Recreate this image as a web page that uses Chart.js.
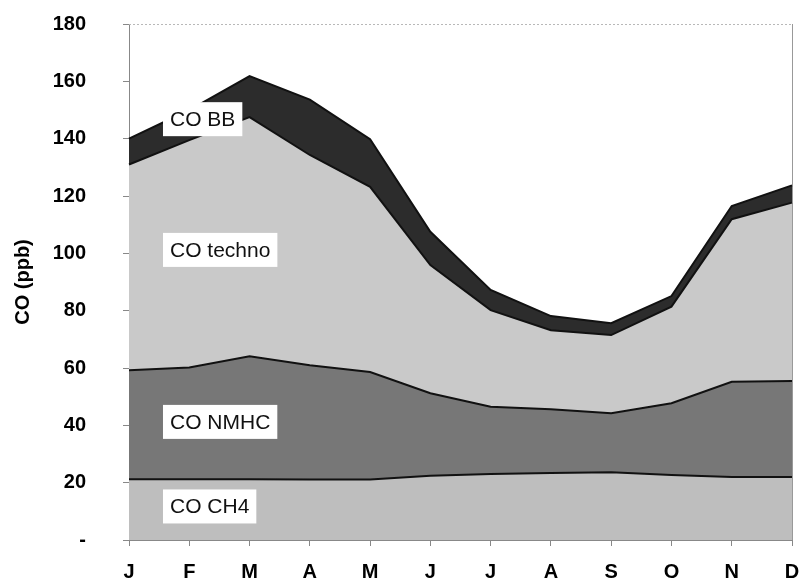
<!DOCTYPE html>
<html lang="en">
<head>
<meta charset="UTF-8">
<title>CO source contributions</title>
<script src="https://cdn.jsdelivr.net/npm/chart.js"></script>
<style>
  html, body { margin: 0; padding: 0; background: #fff; }
  #wrap { width: 800px; height: 579px; }
</style>
</head>
<body>
<div id="wrap"><canvas id="chart" width="800" height="579"></canvas></div>
<script>
// Monthly CO contributions (ppb), stacked from the bottom up
const months = ['J', 'F', 'M', 'A', 'M', 'J', 'J', 'A', 'S', 'O', 'N', 'D'];
const coCH4   = [21.2, 21.2, 21.2, 21.1, 21.1, 22.4, 23.0, 23.4, 23.6, 22.7, 22.0, 22.0];
const coNMHC  = [38.0, 39.0, 42.9, 39.9, 37.5, 28.8, 23.5, 22.2, 20.6, 25.0, 33.2, 33.5];
const coTechno = [71.8, 79.3, 83.4, 73.3, 64.6, 44.7, 33.7, 27.6, 27.3, 33.7, 56.7, 62.2];
const coBB    = [9.0, 10.5, 14.3, 19.3, 16.6, 11.6, 7.0, 4.9, 4.1, 3.7, 4.6, 6.0];
const yTicks = [0, 20, 40, 60, 80, 100, 120, 140, 160, 180];

// boxed labels: [text, x (month index), y (ppb)]
const areaLabels = [
  ['CO BB', 0.68, 146.8],
  ['CO techno', 0.68, 101.2],
  ['CO NMHC', 0.68, 41.2],
  ['CO CH4', 0.68, 11.7]
];

const FONT = "'Liberation Sans', Arial, sans-serif";

const frame = {
  id: 'frame',
  beforeDatasetsDraw(chart) {
    const { ctx, chartArea: a } = chart;
    ctx.save();
    ctx.strokeStyle = '#b8b8b8';
    ctx.lineWidth = 1;
    ctx.setLineDash([2, 2]);
    ctx.beginPath();
    ctx.moveTo(a.left, a.top + 0.5);
    ctx.lineTo(a.right, a.top + 0.5);
    ctx.stroke();
    ctx.setLineDash([]);
    ctx.strokeStyle = '#999';
    ctx.beginPath();
    ctx.moveTo(a.right + 0.5, a.top);
    ctx.lineTo(a.right + 0.5, a.bottom);
    ctx.stroke();
    ctx.restore();
  }
};

const boxLabels = {
  id: 'boxLabels',
  afterDatasetsDraw(chart) {
    const { ctx, scales: { x, y } } = chart;
    ctx.save();
    ctx.font = '21px ' + FONT;
    ctx.textBaseline = 'middle';
    ctx.textAlign = 'left';
    areaLabels.forEach(([txt, xi, yv]) => {
      const px = x.getPixelForValue(xi);
      const py = y.getPixelForValue(yv);
      const w = ctx.measureText(txt).width;
      ctx.fillStyle = '#fff';
      ctx.fillRect(px - 7, py - 17, w + 14, 34);
      ctx.fillStyle = '#111';
      ctx.fillText(txt, px, py + 1);
    });
    ctx.restore();
  }
};

// keep label overflow from shrinking the plot area
function noPad(s) {
  s.paddingTop = 0; s.paddingBottom = 0;
  s.paddingLeft = 0; s.paddingRight = 0;
}

const line = '#111';
new Chart(document.getElementById('chart'), {
  type: 'line',
  data: {
    labels: months,
    datasets: [
      { label: 'CO CH4', data: coCH4, backgroundColor: '#bebebe', fill: 'origin' },
      { label: 'CO NMHC', data: coNMHC, backgroundColor: '#777777', fill: '-1' },
      { label: 'CO techno', data: coTechno, backgroundColor: '#c9c9c9', fill: '-1' },
      { label: 'CO BB', data: coBB, backgroundColor: '#2c2c2c', fill: '-1' }
    ].map(d => Object.assign(d, {
      borderColor: line, borderWidth: 2, pointRadius: 0, tension: 0
    }))
  },
  options: {
    responsive: false,
    animation: false,
    layout: { padding: { left: 0, right: 8, top: 24, bottom: 0 } },
    plugins: { legend: { display: false }, tooltip: { enabled: false } },
    scales: {
      x: {
        type: 'category',
        offset: false,
        border: { color: '#888', width: 1 },
        grid: { drawOnChartArea: false, color: '#888', tickLength: 6 },
        ticks: {
          color: '#000', padding: 14, maxRotation: 0, autoSkip: false,
          font: { family: FONT, size: 20, weight: 'bold' }
        },
        afterFit(s) { s.height = 39; noPad(s); }
      },
      y: {
        stacked: true,
        min: 0, max: 180,
        afterBuildTicks(s) { s.ticks = yTicks.map(v => ({ value: v })); },
        border: { color: '#888', width: 1 },
        grid: { drawOnChartArea: false, color: '#888', tickLength: 6 },
        ticks: {
          color: '#000', padding: 37,
          font: { family: FONT, size: 20, weight: 'bold' },
          callback: v => v === 0 ? '-' : v
        },
        title: {
          display: true, text: 'CO (ppb)', color: '#000', padding: { top: 11, bottom: 0 },
          font: { family: FONT, size: 20, weight: 'bold' }
        },
        afterFit(s) { s.width = 129; noPad(s); }
      }
    }
  },
  plugins: [frame, boxLabels]
});
</script>
</body>
</html>
